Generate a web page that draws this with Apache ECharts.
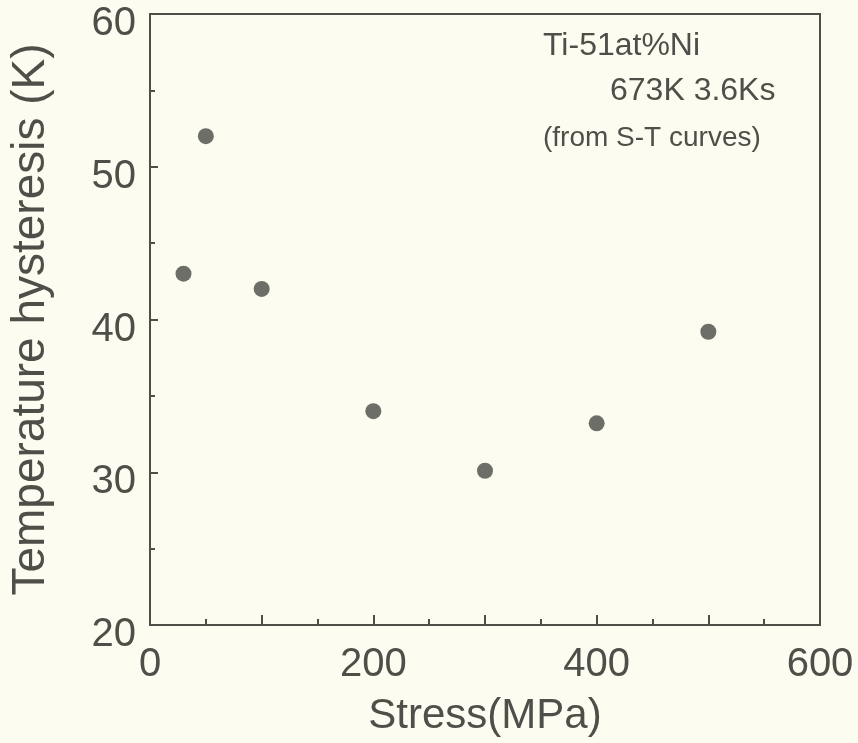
<!DOCTYPE html>
<html>
<head>
    <meta charset="utf-8">
    <title>Temperature hysteresis vs stress</title>
    <style>
        html,
        body,
        #chart {
            margin: 0;
            padding: 0;
            width: 858px;
            height: 743px;
            background: #fcfcf1;
        }
    </style>
</head>
<body>
    <div id="chart"></div>
    <script src="https://cdn.jsdelivr.net/npm/echarts@6/dist/echarts.min.js"></script>
    <script>
        // data
        var stress = [30, 50, 100, 200, 300, 400, 500];
        var hysteresis = [43, 52, 42, 34, 30.1, 33.2, 39.2];
        var xLabels = [0, 200, 400, 600];
        var yLabels = [20, 30, 40, 50, 60];

        var ink = '#4f4f4a';
        var font = '"Liberation Sans", Arial, sans-serif';

        var points = stress.map(function (s, i) {
            return [s, hysteresis[i]];
        });

        var chart = echarts.init(document.getElementById('chart'));
        chart.setOption({
            backgroundColor: '#fcfcf1',
            animation: false,
            grid: {
                left: 146,
                right: 38,
                top: 14,
                bottom: 118,
                show: true,
                borderColor: ink,
                borderWidth: 2,
                backgroundColor: 'transparent'
            },
            xAxis: {
                type: 'value',
                min: 0,
                max: 600,
                interval: 100,
                name: 'Stress(MPa)',
                nameLocation: 'middle',
                nameGap: 70,
                nameTextStyle: { color: ink, fontSize: 42, fontFamily: font },
                axisLine: { lineStyle: { color: ink, width: 2 } },
                axisTick: { inside: true, length: 10, lineStyle: { color: ink, width: 2 } },
                minorTick: { show: true, splitNumber: 2, length: 6, lineStyle: { color: ink, width: 2 } },
                splitLine: { show: false },
                axisLabel: {
                    color: ink,
                    fontSize: 40,
                    fontFamily: font,
                    margin: 20,
                    formatter: function (v) {
                        return xLabels.indexOf(v) >= 0 ? String(v) : '';
                    }
                }
            },
            yAxis: {
                type: 'value',
                min: 20,
                max: 60,
                interval: 10,
                name: 'Temperature hysteresis (K)',
                nameLocation: 'middle',
                nameGap: 96,
                nameTextStyle: { color: ink, fontSize: 46, fontFamily: font },
                axisLine: { lineStyle: { color: ink, width: 2 } },
                axisTick: { inside: true, length: 8, lineStyle: { color: ink, width: 2 } },
                minorTick: { show: true, splitNumber: 2, length: 5, lineStyle: { color: ink, width: 2 } },
                splitLine: { show: false },
                axisLabel: {
                    color: ink,
                    fontSize: 40,
                    fontFamily: font,
                    margin: 14,
                    verticalAlign: 'top',
                    lineHeight: 20,
                    formatter: function (v) {
                        return yLabels.indexOf(v) >= 0 ? String(v) : '';
                    }
                }
            },
            graphic: [
                { type: 'text', left: 543, top: 30, style: { text: 'Ti-51at%Ni', fill: ink, fontSize: 32, fontFamily: font } },
                { type: 'text', left: 610, top: 75, style: { text: '673K 3.6Ks', fill: ink, fontSize: 32, fontFamily: font } },
                { type: 'text', left: 543, top: 124, style: { text: '(from S-T curves)', fill: ink, fontSize: 28, fontFamily: font } }
            ],
            series: [{
                type: 'scatter',
                data: points,
                symbol: 'circle',
                symbolSize: 16,
                itemStyle: { color: '#4a4a46' }
            }]
        });
    </script>
</body>
</html>
